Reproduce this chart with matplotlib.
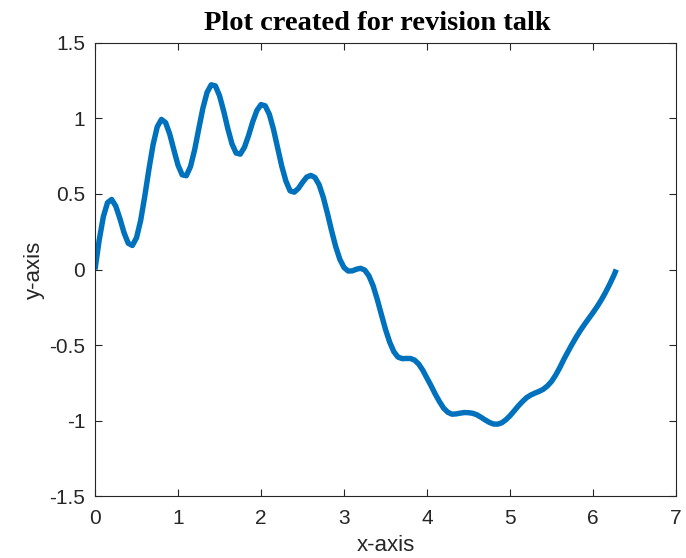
import numpy as np
import matplotlib
matplotlib.use("Agg")
import matplotlib.pyplot as plt

# values (x every 0.05 up to 2*pi)
x_vals = [0.00, 0.05, 0.10, 0.15, 0.20, 0.25, 0.30, 0.35, 0.40, 0.45,
          0.50, 0.55, 0.60, 0.65, 0.70, 0.75, 0.80, 0.85, 0.90, 0.95,
          1.00, 1.05, 1.10, 1.15, 1.20, 1.25, 1.30, 1.35, 1.40, 1.45,
          1.50, 1.55, 1.60, 1.65, 1.70, 1.75, 1.80, 1.85, 1.90, 1.95,
          2.00, 2.05, 2.10, 2.15, 2.20, 2.25, 2.30, 2.35, 2.40, 2.45,
          2.50, 2.55, 2.60, 2.65, 2.70, 2.75, 2.80, 2.85, 2.90, 2.95,
          3.00, 3.05, 3.10, 3.15, 3.20, 3.25, 3.30, 3.35, 3.40, 3.45,
          3.50, 3.55, 3.60, 3.65, 3.70, 3.75, 3.80, 3.85, 3.90, 3.95,
          4.00, 4.05, 4.10, 4.15, 4.20, 4.25, 4.30, 4.35, 4.40, 4.45,
          4.50, 4.55, 4.60, 4.65, 4.70, 4.75, 4.80, 4.85, 4.90, 4.95,
          5.00, 5.05, 5.10, 5.15, 5.20, 5.25, 5.30, 5.35, 5.40, 5.45,
          5.50, 5.55, 5.60, 5.65, 5.70, 5.75, 5.80, 5.85, 5.90, 5.95,
          6.00, 6.05, 6.10, 6.15, 6.20, 6.25, 6.28]
y_vals = [0.000, 0.193, 0.349, 0.442, 0.464, 0.420, 0.337, 0.243, 0.174, 0.159,
          0.210, 0.325, 0.487, 0.665, 0.828, 0.945, 0.994, 0.973, 0.897, 0.792,
          0.691, 0.627, 0.621, 0.681, 0.792, 0.932, 1.069, 1.173, 1.223, 1.216,
          1.151, 1.049, 0.933, 0.832, 0.771, 0.764, 0.809, 0.887, 0.978, 1.053,
          1.092, 1.084, 1.028, 0.929, 0.806, 0.684, 0.585, 0.521, 0.512, 0.537,
          0.577, 0.612, 0.623, 0.609, 0.561, 0.478, 0.372, 0.257, 0.151, 0.067,
          0.013, -0.010, -0.009, 0.002, 0.008, -0.004, -0.042, -0.107, -0.197, -0.298,
          -0.397, -0.481, -0.544, -0.580, -0.590, -0.589, -0.589, -0.600, -0.626, -0.668,
          -0.720, -0.771, -0.826, -0.875, -0.918, -0.945, -0.958, -0.956, -0.951, -0.947,
          -0.948, -0.952, -0.962, -0.978, -0.996, -1.012, -1.023, -1.024, -1.015, -0.995,
          -0.968, -0.936, -0.903, -0.874, -0.848, -0.831, -0.818, -0.807, -0.793, -0.771,
          -0.741, -0.699, -0.649, -0.593, -0.542, -0.492, -0.445, -0.401, -0.361, -0.323,
          -0.285, -0.245, -0.201, -0.152, -0.098, -0.040, 0.000]

x_ticks = [0, 1, 2, 3, 4, 5, 6, 7]
y_ticks = [-1.5, -1, -0.5, 0, 0.5, 1, 1.5]
y_labels = ["-1.5", "-1", "-0.5", "0", "0.5", "1", "1.5"]

plt.rcParams['font.family'] = ['Liberation Sans', 'DejaVu Sans']
grey = '#262626'

fig = plt.figure(figsize=(6.86, 5.58), dpi=100)
ax = fig.add_axes([0.1385, 0.111, 0.847, 0.812])

ax.plot(x_vals, y_vals, color='#0072BD', linewidth=3.9,
        solid_capstyle='butt', solid_joinstyle='round')

ax.set_xlim(0, 7)
ax.set_ylim(-1.5, 1.5)
ax.set_xticks(x_ticks)
ax.set_yticks(y_ticks)
ax.set_yticklabels(y_labels)
ax.tick_params(direction='in', length=5, width=0.8, colors=grey,
               labelsize=15, top=True, right=True)
ax.tick_params(axis='x', pad=9)
ax.tick_params(axis='y', pad=7)
for sp in ax.spines.values():
    sp.set_color(grey)
    sp.set_linewidth(0.8)

ax.set_xlabel('x-axis', fontsize=16, color=grey, labelpad=5.5)
ax.set_ylabel('y-axis', fontsize=16, color=grey, labelpad=3)
ax.set_title('Plot created for revision talk', fontsize=20.5, fontweight='bold',
             family='Liberation Serif', color='black', pad=9, x=0.486)

fig.savefig('out.png', dpi=100)
